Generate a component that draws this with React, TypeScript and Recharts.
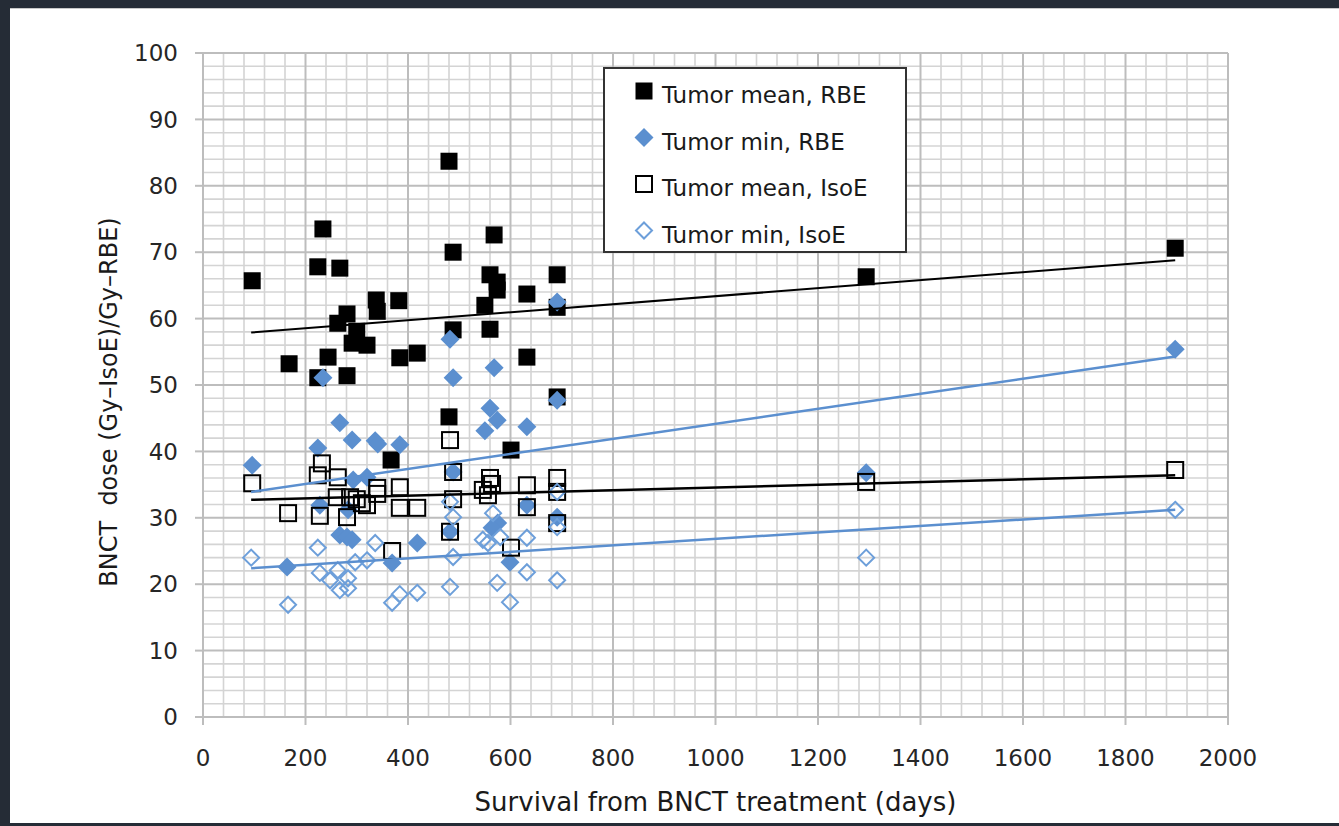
import React from 'react'
import { ScatterChart, Scatter, XAxis, YAxis, CartesianGrid } from 'recharts'

const FONT = '"DejaVu Sans", sans-serif'
const BLUE = '#5b8fcf'
const BLUE_LIGHT = '#6d9fda'
const MAJOR_GRID = '#bdbdbd'
const MINOR_GRID = '#d4d4d4'

// axis ticks
const xTicks = [0, 200, 400, 600, 800, 1000, 1200, 1400, 1600, 1800, 2000]
const yTicks = [0, 10, 20, 30, 40, 50, 60, 70, 80, 90, 100]

// Tumor mean, RBE (filled black squares)
const meanRbeDays = [96, 168, 224, 234, 224, 244, 267, 281, 281, 263, 300, 291, 320, 338, 340, 382, 384, 418, 367, 480, 488, 488, 480, 568, 560, 574, 574, 550, 632, 691, 691, 560, 632, 691, 601, 1294, 1897]
const meanRbeDose = [65.7, 53.2, 67.8, 73.5, 51.1, 54.2, 67.6, 51.4, 60.7, 59.3, 58.1, 56.3, 56.0, 62.8, 61.1, 62.7, 54.1, 54.8, 38.7, 83.7, 70.0, 58.3, 45.2, 72.6, 66.6, 65.5, 64.3, 62.0, 63.7, 66.6, 61.7, 58.4, 54.2, 48.2, 40.2, 66.3, 70.6]

// Tumor min, RBE (filled blue diamonds)
const minRbeDays = [96, 164, 224, 234, 267, 291, 336, 341, 384, 320, 293, 228, 267, 281, 291, 283, 369, 418, 482, 482, 488, 568, 691, 691, 560, 574, 550, 632, 488, 575, 691, 632, 599, 564, 1294, 1897]
const minRbeDose = [37.9, 22.6, 40.5, 51.1, 44.3, 41.7, 41.6, 41.1, 41.0, 36.1, 35.7, 31.9, 27.4, 27.1, 26.7, 31.2, 23.2, 26.2, 27.9, 56.9, 51.1, 52.6, 62.5, 47.7, 46.5, 44.7, 43.1, 43.7, 36.9, 29.2, 30.1, 31.9, 23.3, 28.5, 36.8, 55.4]

// Tumor mean, IsoE (hollow black squares)
const meanIsoDays = [96, 166, 224, 232, 263, 261, 228, 281, 287, 300, 310, 320, 340, 340, 384, 384, 418, 369, 482, 488, 488, 482, 560, 564, 546, 556, 632, 632, 691, 691, 691, 601, 1294, 1897]
const meanIsoDose = [35.2, 30.7, 36.4, 38.2, 36.1, 33.1, 30.3, 30.1, 33.1, 32.8, 32.2, 31.9, 34.5, 33.6, 34.6, 31.5, 31.5, 25.0, 41.7, 36.9, 32.8, 27.9, 36.0, 35.1, 34.2, 33.4, 34.9, 31.6, 36.0, 33.9, 29.2, 25.5, 35.4, 37.2]

// Tumor min, IsoE (hollow blue diamonds)
const minIsoDays = [94, 166, 224, 228, 248, 263, 267, 283, 283, 336, 297, 320, 369, 384, 418, 482, 488, 488, 482, 566, 546, 556, 580, 574, 632, 632, 691, 691, 691, 599, 1294, 1897]
const minIsoDose = [24.0, 16.9, 25.5, 21.7, 20.6, 22.1, 19.1, 20.9, 19.4, 26.2, 23.3, 23.6, 17.2, 18.5, 18.7, 19.6, 24.1, 30.1, 32.4, 30.7, 26.7, 26.2, 27.1, 20.2, 27.0, 21.8, 33.9, 28.6, 20.6, 17.3, 24.0, 31.2]

// linear trendlines (end points)
const trendDays = [94, 1897]
const meanRbeTrend = [57.9, 68.8]
const minRbeTrend = [33.9, 54.3]
const meanIsoTrend = [32.7, 36.4]
const minIsoTrend = [22.4, 31.2]

const toPoints = (xs: number[], ys: number[]) => xs.map((x, i) => ({ x, y: ys[i] }))

// minor grid every 40 days / 2 Gy
const xMinor = Array.from({ length: 51 }, (_, i) => i * 40).filter((v) => v % 200 !== 0)
const yMinor = Array.from({ length: 51 }, (_, i) => i * 2).filter((v) => v % 10 !== 0)

const FilledSquare = (p: any) => <rect x={p.cx - 8.5} y={p.cy - 8.5} width={17} height={17} fill="#000" />
const FilledDiamond = (p: any) => (
  <path d={`M${p.cx},${p.cy - 9.5} L${p.cx + 9.5},${p.cy} L${p.cx},${p.cy + 9.5} L${p.cx - 9.5},${p.cy} Z`} fill={BLUE} />
)
const HollowSquare = (p: any) => (
  <rect x={p.cx - 8} y={p.cy - 8} width={16} height={16} fill="none" stroke="#000" strokeWidth={2} />
)
const HollowDiamond = (p: any) => (
  <path
    d={`M${p.cx},${p.cy - 8} L${p.cx + 8},${p.cy} L${p.cx},${p.cy + 8} L${p.cx - 8},${p.cy} Z`}
    fill="none"
    stroke={BLUE_LIGHT}
    strokeWidth={2}
  />
)
const NoDot = () => <g />

const YTitle = () => (
  <text
    x={117}
    y={402}
    transform="rotate(-90, 117, 402)"
    textAnchor="middle"
    fontFamily={FONT}
    fontSize={24}
    fill="#1a1a1a"
  >
    BNCT{'\u00a0\u00a0'}dose (Gy–IsoE)/Gy–RBE)
  </text>
)

const legendItems = [
  { label: 'Tumor mean, RBE', Shape: FilledSquare },
  { label: 'Tumor min, RBE', Shape: FilledDiamond },
  { label: 'Tumor mean, IsoE', Shape: HollowSquare },
  { label: 'Tumor min, IsoE', Shape: HollowDiamond },
]

function ChartLegend() {
  return (
    <svg
      width={304}
      height={186}
      style={{ position: 'absolute', left: 603, top: 67, background: '#fff' }}
    >
      <rect x={1} y={1} width={302} height={184} fill="#fff" stroke="#333" strokeWidth={2} />
      {legendItems.map(({ label, Shape }, i) => (
        <g key={label}>
          <Shape cx={41} cy={24 + i * 46.5} />
          <text x={59} y={36 + i * 46.5} fontFamily={FONT} fontSize={23} fill="#1a1a1a">
            {label}
          </text>
        </g>
      ))}
    </svg>
  )
}

export default function App() {
  return (
    <>
      <style>{`body{margin:0;background:#252c36;}`}</style>
      <div style={{ position: 'relative', width: 1339, height: 826, overflow: 'hidden' }}>
        <div style={{ position: 'absolute', left: 10, top: 8, width: 1329, height: 814, background: '#fff', borderTop: '1px solid #c8c8c8' }} />
        <div style={{ position: 'absolute', left: 0, top: 0 }}>
          <ScatterChart width={1339} height={826} margin={{ top: 53, right: 111, bottom: 0, left: 0 }}>
            <CartesianGrid
              horizontalValues={yMinor}
              verticalValues={xMinor}
              syncWithTicks
              stroke={MINOR_GRID}
              strokeWidth={1.6}
            />
            <CartesianGrid stroke={MAJOR_GRID} strokeWidth={2} />
            <XAxis
              type="number"
              dataKey="x"
              domain={[0, 2000]}
              ticks={xTicks}
              interval={0}
              allowDataOverflow
              height={109}
              axisLine={false}
              tickSize={8}
              tickMargin={25}
              tickLine={{ stroke: MAJOR_GRID, strokeWidth: 2 }}
              tick={{ fontFamily: FONT, fontSize: 23, fill: '#262626' }}
              label={{
                value: 'Survival from BNCT treatment (days)',
                position: 'insideBottom',
                offset: 15,
                style: { fontFamily: FONT, fontSize: 26, fill: '#1a1a1a' },
              }}
            />
            <YAxis
              type="number"
              dataKey="y"
              domain={[0, 100]}
              ticks={yTicks}
              interval={0}
              allowDataOverflow
              width={203}
              axisLine={false}
              tickSize={8}
              tickMargin={17}
              tickLine={{ stroke: MAJOR_GRID, strokeWidth: 2 }}
              tick={{ fontFamily: FONT, fontSize: 23, fill: '#262626' }}
              label={{ content: YTitle }}
            />
            <Scatter data={toPoints(meanRbeDays, meanRbeDose)} shape={FilledSquare} isAnimationActive={false} />
            <Scatter data={toPoints(minRbeDays, minRbeDose)} shape={FilledDiamond} isAnimationActive={false} />
            <Scatter data={toPoints(meanIsoDays, meanIsoDose)} shape={HollowSquare} isAnimationActive={false} />
            <Scatter data={toPoints(minIsoDays, minIsoDose)} shape={HollowDiamond} isAnimationActive={false} />
            <Scatter data={toPoints(trendDays, meanRbeTrend)} line={{ stroke: '#000', strokeWidth: 2 }} shape={NoDot} isAnimationActive={false} />
            <Scatter data={toPoints(trendDays, minRbeTrend)} line={{ stroke: BLUE, strokeWidth: 2.5 }} shape={NoDot} isAnimationActive={false} />
            <Scatter data={toPoints(trendDays, meanIsoTrend)} line={{ stroke: '#000', strokeWidth: 2.5 }} shape={NoDot} isAnimationActive={false} />
            <Scatter data={toPoints(trendDays, minIsoTrend)} line={{ stroke: BLUE, strokeWidth: 2.5 }} shape={NoDot} isAnimationActive={false} />
          </ScatterChart>
        </div>
        <ChartLegend />
      </div>
    </>
  )
}
